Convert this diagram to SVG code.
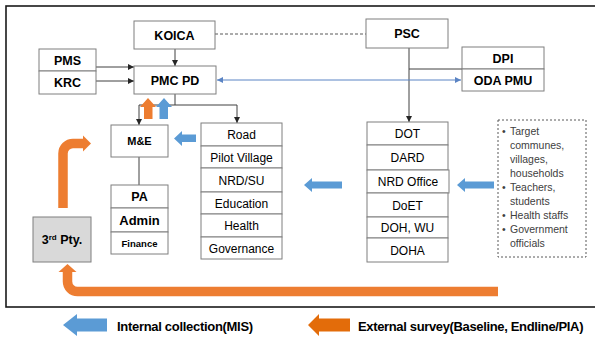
<svg xmlns="http://www.w3.org/2000/svg" width="595" height="338" viewBox="0 0 595 338">
<defs>
<style>
.box{fill:#fff;stroke:#7f7f7f;stroke-width:1}
.t{font-family:"Liberation Sans",Arial,sans-serif;fill:#000;text-anchor:middle}
.b{font-weight:bold}
.r{font-size:12px}
.conn{fill:none;stroke:#404040;stroke-width:1}
.blue{fill:#5B9BD5}
.orange{fill:#ED7D31}
.ostroke{fill:none;stroke:#ED7D31;stroke-width:9.5}
.list{font-family:"Liberation Sans",Arial,sans-serif;font-size:10.5px;fill:#404040}
</style>
<marker id="ah" viewBox="0 0 6 6" refX="6" refY="3" markerWidth="6" markerHeight="6" orient="auto" markerUnits="userSpaceOnUse">
<path d="M0,0 L6,3 L0,6 Z" fill="#262626"/>
</marker>
<marker id="ahb" viewBox="0 0 6 6" refX="6" refY="3" markerWidth="6" markerHeight="6" orient="auto-start-reverse" markerUnits="userSpaceOnUse">
<path d="M0,0 L6,3 L0,6 Z" fill="#5B84C4"/>
</marker>
</defs>
<rect x="0" y="0" width="595" height="338" fill="#fff"/>
<rect x="6" y="6" width="640" height="301" fill="none" stroke="#1a1a1a" stroke-width="1.6"/>

<g id="connectors">
<line x1="215" y1="34" x2="366" y2="34" stroke="#595959" stroke-width="1" stroke-dasharray="3,2"/>
<line class="conn" x1="175" y1="49" x2="175" y2="66" marker-end="url(#ah)"/>
<line class="conn" x1="96" y1="67" x2="134" y2="67" marker-end="url(#ah)"/>
<line class="conn" x1="96" y1="81" x2="134" y2="81" marker-end="url(#ah)"/>
<path class="conn" d="M175,94 V105 M139,105 H237"/>
<line class="conn" x1="139" y1="105" x2="139" y2="125" marker-end="url(#ah)"/>
<line class="conn" x1="237" y1="105" x2="237" y2="123" marker-end="url(#ah)"/>
<line class="conn" x1="139" y1="157" x2="139" y2="185"/>
<line class="conn" x1="409" y1="48" x2="409" y2="122" marker-end="url(#ah)"/>
<line class="conn" x1="409" y1="69" x2="462" y2="69"/>
<line x1="217" y1="80" x2="461" y2="80" stroke="#5B84C4" stroke-width="1" marker-start="url(#ahb)" marker-end="url(#ahb)"/>
</g>

<g id="koica"><rect class="box" x="134" y="21" width="81" height="28"/><text class="t b" x="174.5" y="39.5" font-size="12.5">KOICA</text></g>
<g id="psc"><rect class="box" x="366" y="19" width="82" height="29"/><text class="t b" x="407" y="38" font-size="12.5">PSC</text></g>
<g id="pms"><rect class="box" x="39" y="49" width="57" height="22"/><text class="t b" x="67.5" y="64.5" font-size="12.5">PMS</text></g>
<g id="krc"><rect class="box" x="39" y="71" width="57" height="23"/><text class="t b" x="67.5" y="87" font-size="12.5">KRC</text></g>
<g id="pmcpd"><rect class="box" x="134" y="66" width="82" height="28"/><text class="t b" x="175" y="84.5" font-size="12.5">PMC PD</text></g>
<g id="dpi"><rect class="box" x="462" y="47" width="82" height="22"/><text class="t b" x="503" y="62.5" font-size="12.5">DPI</text></g>
<g id="odapmu"><rect class="box" x="462" y="69" width="82" height="22"/><text class="t b" x="503" y="84.5" font-size="12.5">ODA PMU</text></g>
<g id="me"><rect class="box" x="111" y="125" width="57" height="32"/><text class="t b" x="139.5" y="145" font-size="11">M&amp;E</text></g>

<g id="pa"><rect class="box" x="111" y="185" width="57" height="23"/><text class="t b" x="139.5" y="201" font-size="12.5">PA</text></g>
<g id="admin"><rect class="box" x="111" y="208" width="57" height="24"/><text class="t b" x="139.5" y="224.5" font-size="13">Admin</text></g>
<g id="finance"><rect class="box" x="111" y="232" width="57" height="22"/><text class="t b" x="139.5" y="246.5" font-size="9.5">Finance</text></g>

<g id="road"><rect class="box" x="201" y="123" width="81" height="23"/><text class="t r" x="241.5" y="139">Road</text></g>
<g id="pilot"><rect class="box" x="201" y="146" width="81" height="22"/><text class="t r" x="241.5" y="161.5">Pilot Village</text></g>
<g id="nrdsu"><rect class="box" x="201" y="168" width="81" height="24" stroke-width="1.5"/><text class="t r" x="241.5" y="184.5">NRD/SU</text></g>
<g id="education"><rect class="box" x="201" y="192" width="81" height="22"/><text class="t r" x="241.5" y="207.5">Education</text></g>
<g id="health"><rect class="box" x="201" y="214" width="81" height="23"/><text class="t r" x="241.5" y="230">Health</text></g>
<g id="governance"><rect class="box" x="201" y="237" width="81" height="22"/><text class="t r" x="241.5" y="252.5">Governance</text></g>

<g id="dot"><rect class="box" x="367" y="122" width="81" height="23"/><text class="t r" x="407.5" y="138">DOT</text></g>
<g id="dard"><rect class="box" x="367" y="145" width="81" height="25"/><text class="t r" x="407.5" y="162">DARD</text></g>
<g id="nrdoffice"><rect class="box" x="367" y="170" width="82" height="23" stroke="#595959"/><text class="t r" x="408" y="186">NRD Office</text></g>
<g id="doet"><rect class="box" x="367" y="193" width="81" height="24"/><text class="t r" x="407.5" y="209.5">DoET</text></g>
<g id="dohwu"><rect class="box" x="367" y="217" width="81" height="21"/><text class="t r" x="407.5" y="232">DOH, WU</text></g>
<g id="doha"><rect class="box" x="367" y="238" width="81" height="24"/><text class="t r" x="407.5" y="254.5">DOHA</text></g>

<g id="targets">
<rect x="498" y="120" width="88" height="137" fill="#fff" stroke="#595959" stroke-width="1" stroke-dasharray="2,2"/>
<text class="list" x="502" y="135">•</text><text class="list" x="510" y="135">Target</text>
<text class="list" x="510" y="149">communes,</text>
<text class="list" x="510" y="163">villages,</text>
<text class="list" x="510" y="177">households</text>
<text class="list" x="502" y="191">•</text><text class="list" x="510" y="191">Teachers,</text>
<text class="list" x="510" y="205">students</text>
<text class="list" x="502" y="219">•</text><text class="list" x="510" y="219">Health staffs</text>
<text class="list" x="502" y="233">•</text><text class="list" x="510" y="233">Government</text>
<text class="list" x="510" y="247">officials</text>
</g>

<g id="thirdpty"><rect x="33" y="217" width="58" height="45" fill="#d9d9d9" stroke="#7f7f7f" stroke-width="1"/><text class="t b" x="62" y="244" font-size="12.5">3<tspan font-size="8" dy="-4">rd</tspan><tspan dy="4"> Pty.</tspan></text></g>

<g id="block-arrows">
<polygon class="orange" points="148,98 156,107 152.5,107 152.5,119 144,119 144,107 140,107"/>
<polygon class="blue" points="164,98 172,107 168,107 168,119 159.5,119 159.5,107 156,107"/>
<polygon class="blue" points="174,138.5 182,131 182,134.5 196,134.5 196,142 182,142 182,146"/>
<polygon class="blue" points="304,185 312,178 312,181.5 342,181.5 342,188.5 312,188.5 312,192"/>
<polygon class="blue" points="457,185 465,178 465,181.5 494,181.5 494,188.5 465,188.5 465,192"/>
<path class="ostroke" d="M63,208 V153.5 A10,10 0 0 1 73,143.5 H83.5"/>
<polygon class="orange" points="83,135.5 91,143.5 83,151.5"/>
<path class="ostroke" stroke-width="9" d="M498,291.5 H77.5 A10,10 0 0 1 67.5,281.5 V271.5"/>
<polygon class="orange" points="58.5,272 67.5,264 76.5,272"/>
</g>

<g id="legend">
<polygon class="blue" points="63,325 77,314 77,318.5 107,318.5 107,331.5 77,331.5 77,336"/>
<text class="t b" x="117" y="331" font-size="13" letter-spacing="-0.3" text-anchor="start" style="text-anchor:start">Internal collection(MIS)</text>
<polygon fill="#E36C0A" points="308,325 319,314 319,318.5 350,318.5 350,331.5 319,331.5 319,336"/>
<text class="t b" x="358" y="331" font-size="13" letter-spacing="-0.35" style="text-anchor:start">External survey(Baseline, Endline/PIA)</text>
</g>
</svg>
